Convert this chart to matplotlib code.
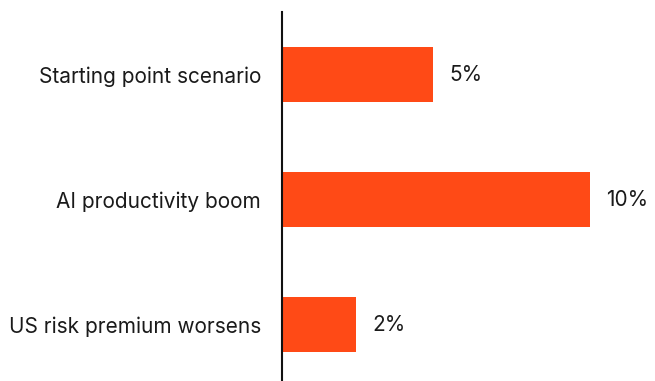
import matplotlib.pyplot as plt

# scenario data (top to bottom)
scenarios = ['Starting point scenario', 'AI productivity boom', 'US risk premium worsens']
values = [4.9, 10.0, 2.4]
value_labels = ['5%', '10%', '2%']

plt.rcParams['font.family'] = ['Inter', 'DejaVu Sans']

fig = plt.figure(figsize=(6.55, 3.81), dpi=100)
ax = fig.add_axes([282 / 655, 0, 1 - 282 / 655, 1 - 12 / 381])

pos = list(range(len(scenarios)))
ax.barh(pos, values, height=0.443, color='#FF4A16')

for p, v, lab in zip(pos, values, value_labels):
    ax.text(v + 0.52, p, lab, va='center', ha='left', fontsize=15, color='#1a1a1a')

ax.set_xlim(0, 373 / 30.8)
ax.set_ylim(2.45, -0.5)
ax.set_yticks(pos)
ax.set_yticklabels(scenarios, fontsize=15, color='#1a1a1a')
ax.tick_params(axis='y', length=0, pad=15)
ax.set_xticks([])

for s in ['top', 'right', 'bottom']:
    ax.spines[s].set_visible(False)
ax.spines['left'].set_linewidth(1.5)
ax.spines['left'].set_color('#111111')

fig.savefig('out.png', dpi=100)
